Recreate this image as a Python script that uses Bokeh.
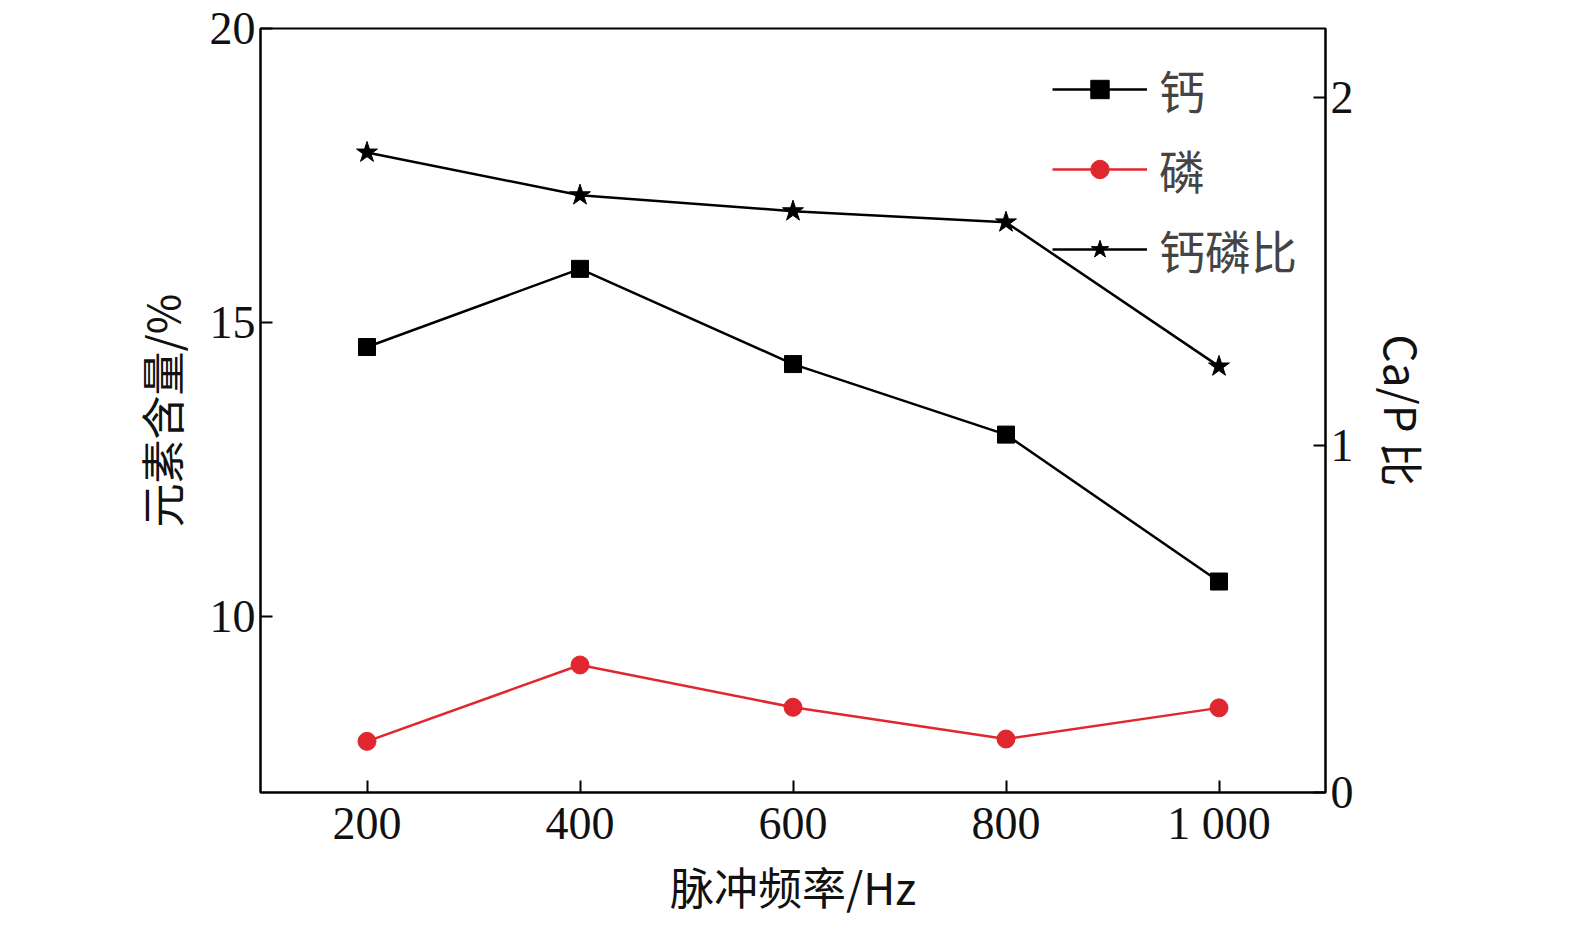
from bokeh.plotting import figure
from bokeh.models import Range1d, LinearAxis, Legend, LegendItem, FixedTicker
from bokeh.embed import file_html
from bokeh.resources import INLINE

freq = [200, 400, 600, 800, 1000]
ca = [14.58, 15.91, 14.29, 13.09, 10.59]
p_ = [7.87, 9.17, 8.45, 7.91, 8.44]
ratio = [1.843, 1.72, 1.674, 1.642, 1.227]

W, H = 1565, 920
p = figure(width=W, height=H, output_backend="svg", toolbar_location=None,
           x_range=Range1d(100, 1100), y_range=Range1d(7, 20),
           min_border_left=260, min_border_right=240, min_border_top=28, min_border_bottom=123)
p.extra_y_ranges = {"r": Range1d(0, 2.2)}
p.grid.visible = False
p.outline_line_color = "black"
p.outline_line_width = 2
p.background_fill_color = "white"

serif = "Liberation Serif"
cjk = "Noto Sans CJK SC"

ra = LinearAxis(y_range_name="r", axis_label="Ca/P 比", ticker=FixedTicker(ticks=[0, 1, 2]))
p.add_layout(ra, "right")
if "axis_label_orientation" in ra.properties():
    ra.axis_label_orientation = "vertical"

for ax in [p.xaxis[0], p.yaxis[0], ra]:
    ax.major_tick_in = 12
    ax.major_tick_out = 0
    ax.minor_tick_in = 0
    ax.minor_tick_out = 0
    ax.axis_line_color = "black"
    ax.axis_line_width = 2
    ax.major_tick_line_width = 2
    ax.major_label_text_font = serif
    ax.major_label_text_font_size = "46px"
    ax.major_label_text_color = "#111"
    ax.axis_label_text_font = cjk
    ax.axis_label_text_font_size = "44px"
    ax.axis_label_text_font_style = "normal"
    ax.axis_label_text_color = "#111"
    ax.axis_label_standoff = 14

p.xaxis[0].ticker = FixedTicker(ticks=freq)
p.xaxis[0].major_label_overrides = {1000: "1 000"}
p.xaxis[0].axis_label = "脉冲频率/Hz"
p.xaxis[0].axis_label_standoff = 2
p.yaxis[0].ticker = FixedTicker(ticks=[10, 15, 20])
p.yaxis[0].axis_label = "元素含量/%"

red = "#e0262e"
l1 = p.line(freq, ca, line_color="black", line_width=2.5)
m1 = p.scatter(freq, ca, marker="square", size=17, color="black")
l2 = p.line(freq, p_, line_color=red, line_width=2.5)
m2 = p.scatter(freq, p_, marker="circle", size=18, color=red)
l3 = p.line(freq, ratio, line_color="black", line_width=2.5, y_range_name="r")
m3 = p.scatter(freq, ratio, marker="star", size=22, color="black", y_range_name="r")

leg = Legend(items=[LegendItem(label="钙", renderers=[l1, m1]),
                    LegendItem(label="磷", renderers=[l2, m2]),
                    LegendItem(label="钙磷比", renderers=[l3, m3])],
             location="top_right", border_line_alpha=0, background_fill_alpha=0,
             label_text_font=cjk, label_text_font_size="46px", glyph_width=95,
             glyph_height=46, spacing=14, label_standoff=12, margin=18)
p.add_layout(leg)

open("out.html", "w").write(file_html(p, INLINE))
